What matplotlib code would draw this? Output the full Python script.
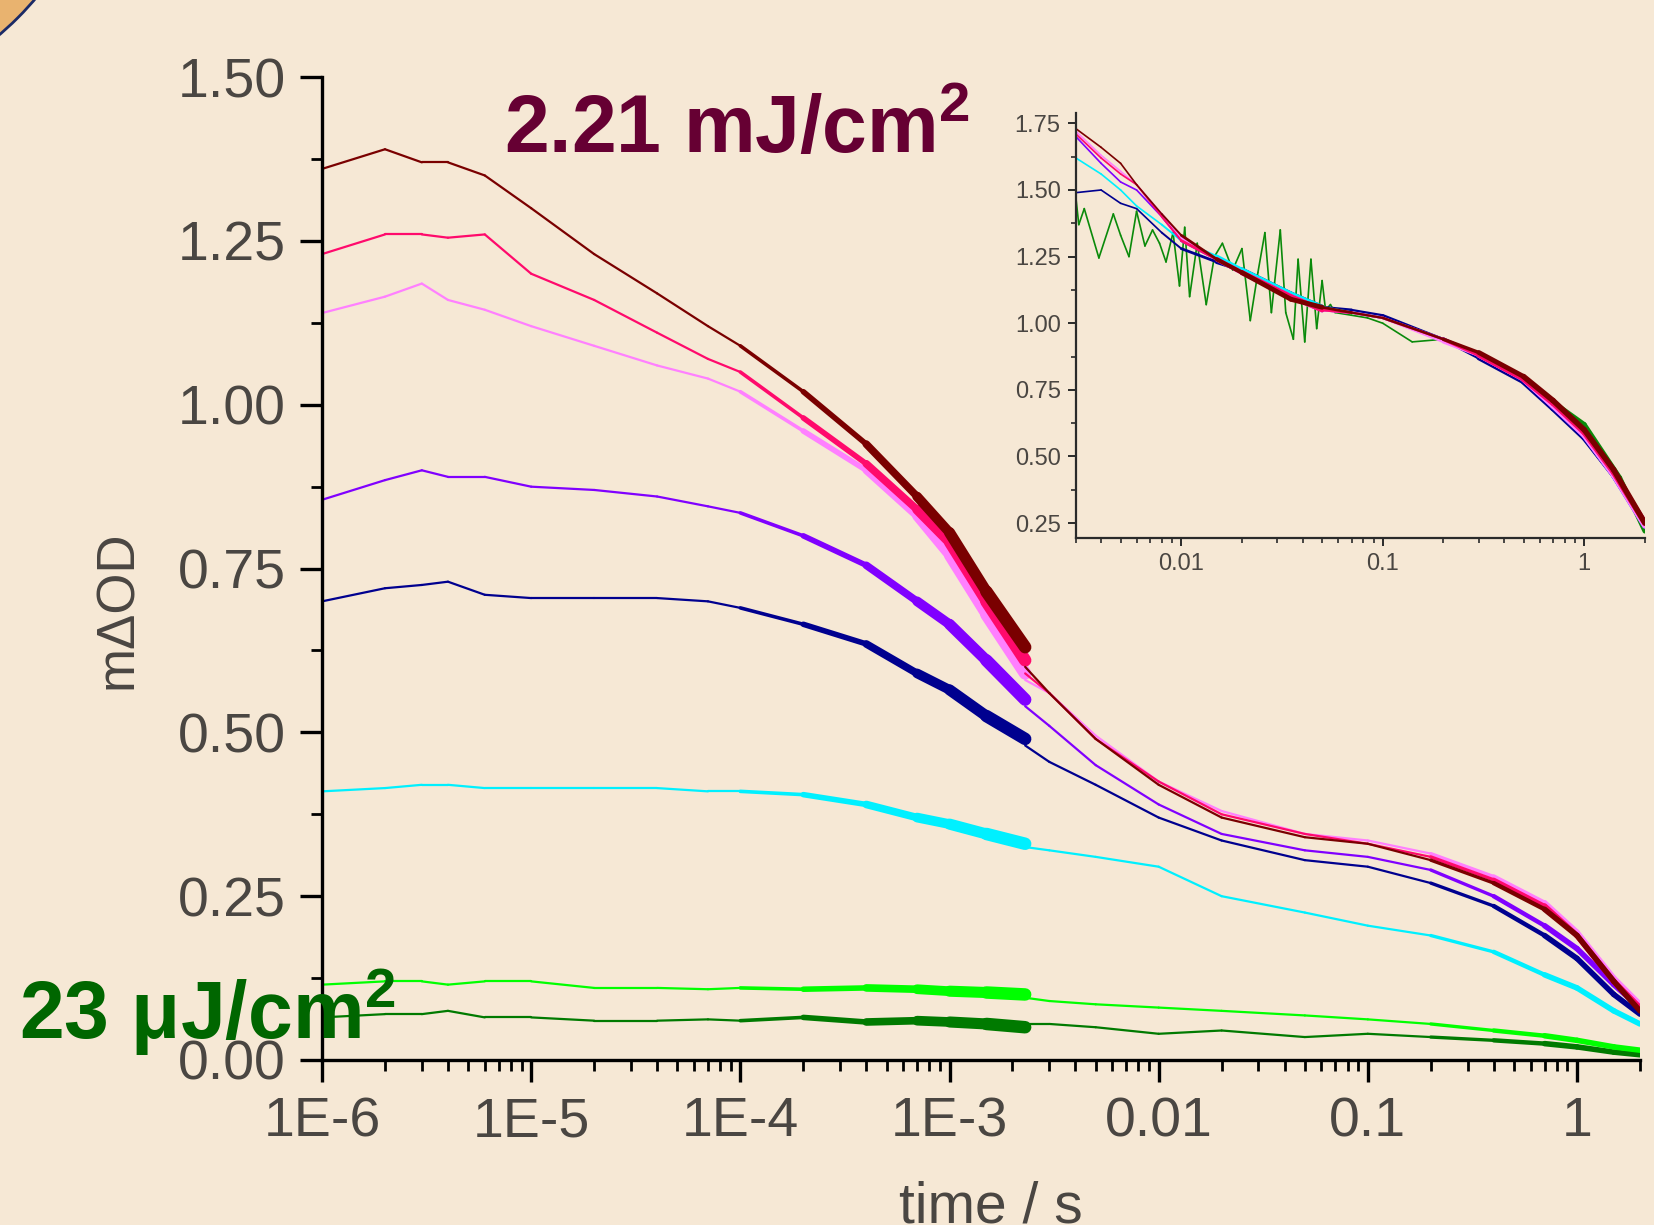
import matplotlib
matplotlib.use("Agg")
import matplotlib.pyplot as plt
from matplotlib.patches import Circle
from matplotlib.collections import LineCollection
from matplotlib.ticker import FixedLocator, FixedFormatter, MultipleLocator, LogLocator, FormatStrFormatter

plt.rcParams['font.family'] = ['Liberation Sans', 'DejaVu Sans']
plt.rcParams['mathtext.fontset'] = 'custom'
plt.rcParams['mathtext.rm'] = 'Liberation Sans'
plt.rcParams['mathtext.bf'] = 'Liberation Sans:bold'

# ---- main panel data (time in s, signal in m-delta-OD) ----
t_early = [1e-6, 2e-6, 3e-6, 4e-6, 6e-6, 1e-5, 2e-5, 4e-5, 7e-5, 1e-4,
           2e-4, 4e-4, 7e-4, 1e-3, 1.5e-3, 2.3e-3]
t_late = [2.3e-3, 3e-3, 5e-3, 1e-2, 2e-2, 5e-2, 0.1, 0.2, 0.4, 0.7, 1.0, 1.5, 2.0]

names = ['dkgreen', 'lime', 'cyan', 'navy', 'purple', 'ltpink', 'pink', 'maroon']
colors = ['#007a00', '#00ff00', '#00f0ff', '#00008f', '#8000ff', '#ff80ff', '#ff0a6c', '#7a0000']

early = {
    'maroon': [1.36, 1.39, 1.37, 1.37, 1.35, 1.30, 1.23, 1.17, 1.12, 1.09, 1.02, 0.94, 0.86, 0.805, 0.715, 0.63],
    'pink':   [1.23, 1.26, 1.26, 1.255, 1.26, 1.20, 1.16, 1.11, 1.07, 1.05, 0.98, 0.91, 0.84, 0.79, 0.70, 0.61],
    'ltpink': [1.14, 1.165, 1.185, 1.16, 1.145, 1.12, 1.09, 1.06, 1.04, 1.02, 0.96, 0.90, 0.83, 0.77, 0.68, 0.59],
    'purple': [0.855, 0.885, 0.90, 0.89, 0.89, 0.875, 0.87, 0.86, 0.845, 0.835, 0.80, 0.755, 0.70, 0.665, 0.61, 0.55],
    'navy':   [0.70, 0.72, 0.725, 0.73, 0.71, 0.705, 0.705, 0.705, 0.70, 0.69, 0.665, 0.635, 0.59, 0.565, 0.525, 0.49],
    'cyan':   [0.41, 0.415, 0.42, 0.42, 0.415, 0.415, 0.415, 0.415, 0.41, 0.41, 0.405, 0.39, 0.37, 0.36, 0.345, 0.33],
    'lime':   [0.115, 0.12, 0.12, 0.115, 0.12, 0.12, 0.11, 0.11, 0.108, 0.11, 0.108, 0.11, 0.108, 0.105, 0.103, 0.10],
    'dkgreen': [0.065, 0.07, 0.07, 0.075, 0.065, 0.065, 0.06, 0.06, 0.062, 0.06, 0.065, 0.058, 0.06, 0.058, 0.055, 0.05],
}
late = {
    'maroon': [0.60, 0.56, 0.49, 0.42, 0.37, 0.34, 0.33, 0.305, 0.27, 0.23, 0.19, 0.12, 0.075],
    'pink':   [0.59, 0.56, 0.49, 0.425, 0.375, 0.345, 0.33, 0.31, 0.275, 0.235, 0.19, 0.12, 0.08],
    'ltpink': [0.58, 0.56, 0.495, 0.425, 0.38, 0.345, 0.335, 0.315, 0.28, 0.24, 0.195, 0.125, 0.085],
    'purple': [0.54, 0.51, 0.45, 0.39, 0.345, 0.32, 0.31, 0.29, 0.25, 0.205, 0.17, 0.115, 0.08],
    'navy':   [0.48, 0.455, 0.42, 0.37, 0.335, 0.305, 0.295, 0.27, 0.235, 0.19, 0.155, 0.10, 0.07],
    'cyan':   [0.325, 0.32, 0.31, 0.295, 0.25, 0.225, 0.205, 0.19, 0.165, 0.13, 0.11, 0.075, 0.055],
    'lime':   [0.095, 0.09, 0.085, 0.08, 0.075, 0.068, 0.062, 0.055, 0.045, 0.037, 0.03, 0.02, 0.015],
    'dkgreen': [0.055, 0.055, 0.05, 0.04, 0.045, 0.035, 0.04, 0.035, 0.03, 0.025, 0.02, 0.012, 0.008],
}

x_ticks = [1e-6, 1e-5, 1e-4, 1e-3, 1e-2, 0.1, 1]
x_ticklabels = ['1E-6', '1E-5', '1E-4', '1E-3', '0.01', '0.1', '1']

# ---- inset data (normalised traces) ----
t_ins = [0.003, 0.004, 0.005, 0.006, 0.008, 0.01, 0.015, 0.02, 0.035, 0.05,
         0.07, 0.1, 0.2, 0.3, 0.5, 0.7, 1.0, 1.4, 2.0]
inset = {
    'navy':   [1.49, 1.50, 1.45, 1.43, 1.34, 1.28, 1.23, 1.20, 1.11, 1.06, 1.05, 1.03, 0.94, 0.87, 0.78, 0.68, 0.57, 0.43, 0.25],
    'cyan':   [1.62, 1.56, 1.50, 1.44, 1.37, 1.31, 1.25, 1.20, 1.11, 1.06, 1.04, 1.02, 0.94, 0.88, 0.79, 0.69, 0.58, 0.43, 0.24],
    'purple': [1.70, 1.60, 1.53, 1.50, 1.40, 1.31, 1.24, 1.19, 1.10, 1.05, 1.04, 1.02, 0.94, 0.88, 0.79, 0.69, 0.58, 0.43, 0.24],
    'ltpink': [1.72, 1.63, 1.57, 1.52, 1.41, 1.32, 1.24, 1.19, 1.10, 1.05, 1.04, 1.02, 0.93, 0.88, 0.79, 0.69, 0.58, 0.43, 0.24],
    'pink':   [1.71, 1.62, 1.56, 1.52, 1.40, 1.31, 1.24, 1.19, 1.10, 1.05, 1.04, 1.02, 0.94, 0.88, 0.79, 0.70, 0.59, 0.44, 0.25],
    'maroon': [1.73, 1.66, 1.60, 1.52, 1.41, 1.33, 1.24, 1.19, 1.09, 1.06, 1.04, 1.02, 0.94, 0.89, 0.80, 0.71, 0.60, 0.45, 0.25],
}
t_ins_green = [0.003, 0.0031, 0.0033, 0.0039, 0.0046, 0.005, 0.0055, 0.006, 0.0066, 0.0072,
               0.0078, 0.0084, 0.0091, 0.0098, 0.0104, 0.011, 0.012, 0.0133, 0.0146, 0.016,
               0.018, 0.02, 0.022, 0.024, 0.026, 0.028, 0.031, 0.033, 0.036, 0.038,
               0.041, 0.044, 0.047, 0.05, 0.052, 0.055, 0.058, 0.07, 0.084, 0.1,
               0.14, 0.2, 0.3, 0.47, 0.6, 1.0, 1.5, 2.0]
v_ins_green = [1.47, 1.37, 1.43, 1.245, 1.41, 1.33, 1.25, 1.42, 1.29, 1.35,
               1.30, 1.23, 1.34, 1.14, 1.36, 1.10, 1.30, 1.07, 1.25, 1.30,
               1.20, 1.28, 1.01, 1.19, 1.34, 1.04, 1.35, 1.04, 0.94, 1.24,
               0.93, 1.24, 0.98, 1.16, 1.05, 1.07, 1.04, 1.03, 1.02, 1.00,
               0.93, 0.94, 0.88, 0.80, 0.74, 0.62, 0.42, 0.22]

label_grey = '#4a4642'

# line width of each segment: the fast traces get denser (noisier band) at late times
early_lw = [1.6, 1.6, 1.6, 1.6, 1.6, 1.6, 1.6, 1.6, 1.6, 2.6, 4.0, 5.5, 7.0, 8.0, 9.0]
late_lw = [1.6, 1.6, 1.6, 1.6, 1.6, 1.6, 1.6, 2.4, 3.2, 4.0, 4.0, 4.0]


def draw_trace(a, t, y, widths, col):
    segs = [[(t[i], y[i]), (t[i + 1], y[i + 1])] for i in range(len(t) - 1)]
    a.add_collection(LineCollection(segs, colors=col, linewidths=widths, capstyle='round'))


fig = plt.figure(figsize=(16.54, 12.25), dpi=100)
fig.patch.set_facecolor('#f6e8d5')

# corner of the slide decoration
fig.patches.append(Circle((-200, 1425), 308, transform=None, facecolor='#e9b36f',
                          edgecolor='#1b2a66', lw=2))

ax = fig.add_axes([0.1947, 0.1347, 0.7968, 0.8023])
ax.patch.set_alpha(0)
ax.set_xscale('log')

for name, col in zip(names, colors):
    draw_trace(ax, t_early, early[name], early_lw, col)
    draw_trace(ax, t_late, late[name], late_lw, col)

ax.set_xlim(1e-6, 2.0)
ax.set_ylim(0, 1.5)
for side in ['top', 'right']:
    ax.spines[side].set_visible(False)
for side in ['left', 'bottom']:
    ax.spines[side].set_linewidth(2.4)
ax.xaxis.set_major_locator(FixedLocator(x_ticks))
ax.xaxis.set_major_formatter(FixedFormatter(x_ticklabels))
ax.xaxis.set_minor_locator(LogLocator(base=10, subs=range(2, 10), numticks=20))
ax.yaxis.set_major_locator(MultipleLocator(0.25))
ax.yaxis.set_minor_locator(MultipleLocator(0.125))
ax.yaxis.set_major_formatter(FormatStrFormatter('%.2f'))
ax.tick_params(which='major', direction='out', length=16, width=2.4, labelsize=40,
               labelcolor=label_grey, pad=10)
ax.tick_params(which='minor', direction='out', length=8, width=2.0)
ax.tick_params(axis='x', which='minor', labelbottom=False)

fig.text(0.0713, 0.502, 'm\u0394OD', rotation=90, ha='center', va='center',
         fontsize=38, color=label_grey)
fig.text(0.599, 0.036, 'time / s', ha='center', va='top', fontsize=41, color=label_grey)

fig.text(0.305, 0.875, r'2.21 mJ/cm$^{\mathbf{2}}$', fontsize=58, fontweight='bold',
         color='#660033', ha='left', va='baseline')
fig.text(0.0115, 0.152, r'23 $\mathbf{\mu}$J/cm$^{\mathbf{2}}$', fontsize=58, fontweight='bold',
         color='#006600', ha='left', va='baseline')

# ---- inset ----
ax2 = fig.add_axes([0.6505, 0.561, 0.344, 0.347])
ax2.patch.set_alpha(0)
ax2.set_xscale('log')

green_lw = [1.2] * 42 + [2.5, 3.0, 3.5, 3.5, 3.5]
ins_lw = [1.2, 1.2, 1.2, 1.2, 1.4, 2.0, 3.0, 3.5, 3.5, 2.0, 1.6, 1.8, 2.5, 3.5, 4.0, 4.0, 4.0, 4.0]
draw_trace(ax2, t_ins_green, v_ins_green, green_lw, '#0a8a0a')
for name in ['navy', 'cyan', 'purple', 'ltpink', 'pink', 'maroon']:
    draw_trace(ax2, t_ins, inset[name], ins_lw, colors[names.index(name)])

ax2.set_xlim(0.003, 2.0)
ax2.set_ylim(0.195, 1.79)
for side in ['top', 'right']:
    ax2.spines[side].set_visible(False)
for side in ['left', 'bottom']:
    ax2.spines[side].set_linewidth(1.6)
    ax2.spines[side].set_color('#2a2a2a')
ax2.xaxis.set_major_locator(FixedLocator([0.01, 0.1, 1]))
ax2.xaxis.set_major_formatter(FixedFormatter(['0.01', '0.1', '1']))
ax2.xaxis.set_minor_locator(LogLocator(base=10, subs=range(2, 10), numticks=20))
ax2.yaxis.set_major_locator(MultipleLocator(0.25))
ax2.yaxis.set_minor_locator(MultipleLocator(0.125))
ax2.yaxis.set_major_formatter(FormatStrFormatter('%.2f'))
ax2.tick_params(which='major', direction='out', length=6, width=1.4, labelsize=17,
                labelcolor=label_grey, color='#2a2a2a', pad=5)
ax2.tick_params(which='minor', direction='out', length=3.5, width=1.2, color='#2a2a2a')
ax2.tick_params(axis='x', which='minor', labelbottom=False)

fig.savefig('out.png', dpi=100, facecolor=fig.get_facecolor())
